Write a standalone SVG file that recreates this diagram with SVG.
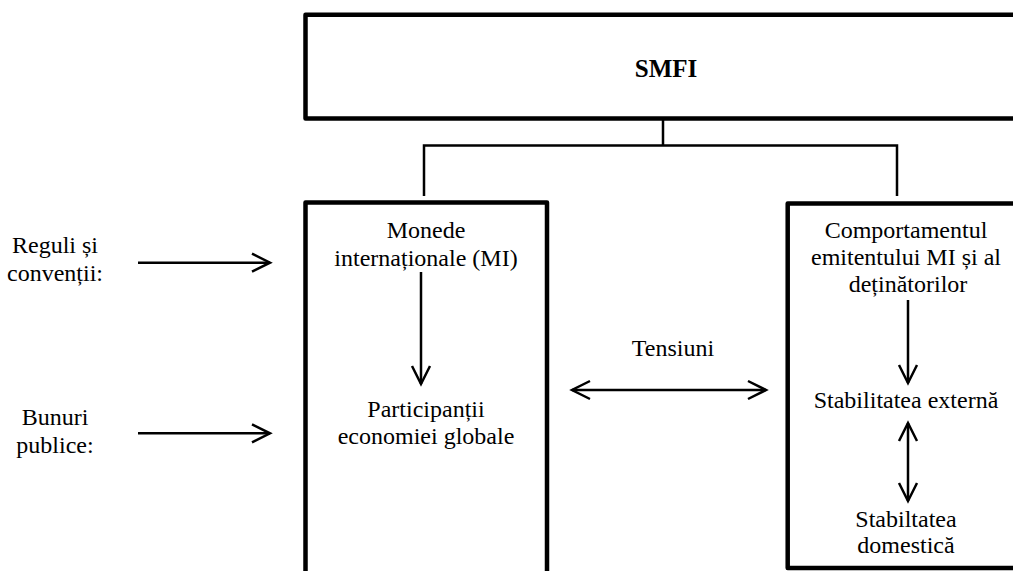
<svg xmlns="http://www.w3.org/2000/svg" width="1013" height="571" viewBox="0 0 1013 571">
<style>
.box{fill:#fff;stroke:#000;stroke-width:4.5;stroke-linejoin:round}
.t{font-family:"Liberation Serif","Times New Roman",serif;font-size:24px;fill:#000;text-anchor:middle}
.b{font-weight:bold;font-size:25px}
.c{fill:none;stroke:#000;stroke-width:2.5}
</style>
<defs>
<marker id="ah" markerUnits="userSpaceOnUse" markerWidth="30" markerHeight="30" viewBox="-25 -15 30 30" refX="0" refY="0" orient="auto-start-reverse">
<path d="M-18,-9 L0,0 L-18,9" fill="none" stroke="#000" stroke-width="2.5"/>
</marker>
</defs>
<rect width="1013" height="571" fill="#fff"/>
<g id="smfi">
<rect class="box" x="305.5" y="14.8" width="740" height="103.6"/>
<text class="t b" x="666" y="77">SMFI</text>
</g>
<g id="left-box">
<rect class="box" x="305.5" y="202.5" width="241.5" height="420"/>
<text class="t" x="426" y="238">Monede</text>
<text class="t" x="426" y="266">internaționale (MI)</text>
<text class="t" x="426" y="417">Participanții</text>
<text class="t" x="426" y="444">economiei globale</text>
</g>
<g id="right-box">
<rect class="box" x="787.7" y="203.5" width="300" height="364.5"/>
<text class="t" x="906" y="238">Comportamentul</text>
<text class="t" x="906" y="265">emitentului MI și al</text>
<text class="t" x="908" y="292">deținătorilor</text>
<text class="t" x="906" y="408">Stabilitatea externă</text>
<text class="t" x="906" y="527">Stabiltatea</text>
<text class="t" x="906" y="553">domestică</text>
</g>
<g id="reguli">
<text class="t" x="55" y="253">Reguli și</text>
<text class="t" x="55" y="281">convenții:</text>
</g>
<g id="bunuri">
<text class="t" x="55" y="425">Bunuri</text>
<text class="t" x="55" y="453">publice:</text>
</g>
<g id="tensiuni">
<text class="t" x="673" y="356">Tensiuni</text>
</g>
<g id="connectors">
<path class="c" d="M663,118 V145.5 M424,145.5 H897 M424,144.3 V196 M897,144.3 V196"/>
<line class="c" x1="138" y1="262.7" x2="270" y2="262.7" marker-end="url(#ah)"/>
<line class="c" x1="138" y1="433.3" x2="270" y2="433.3" marker-end="url(#ah)"/>
<line class="c" x1="421" y1="272" x2="421" y2="384" marker-end="url(#ah)"/>
<line class="c" x1="572" y1="390" x2="766" y2="390" marker-start="url(#ah)" marker-end="url(#ah)"/>
<line class="c" x1="908" y1="300" x2="908" y2="383" marker-end="url(#ah)"/>
<line class="c" x1="908" y1="423" x2="908" y2="501" marker-start="url(#ah)" marker-end="url(#ah)"/>
</g>
</svg>
